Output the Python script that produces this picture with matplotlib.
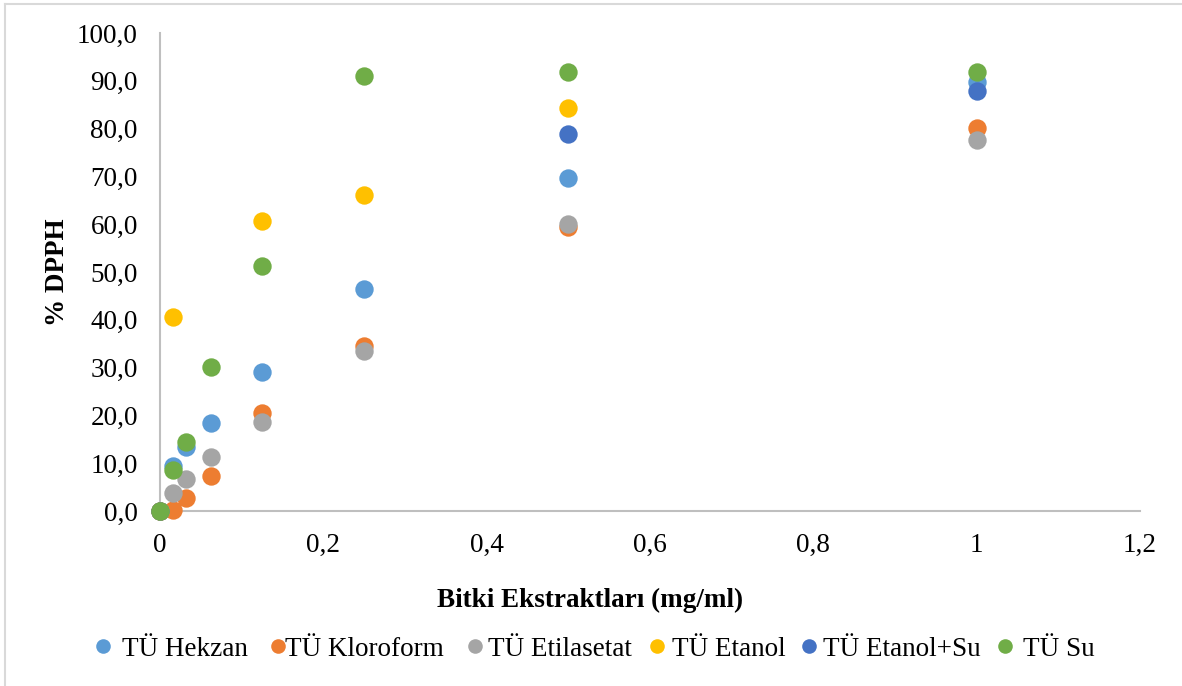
import numpy as np
import matplotlib
matplotlib.use("Agg")
import matplotlib.pyplot as plt
from matplotlib.lines import Line2D

x = [0, 0.015625, 0.03125, 0.0625, 0.125, 0.25, 0.5, 1.0]
series_names = ["TÜ Hekzan", "TÜ Kloroform", "TÜ Etilasetat", "TÜ Etanol", "TÜ Etanol+Su", "TÜ Su"]
hekzan = [0, 9.4, 13.4, 18.4, 29.1, 46.4, 69.7, 89.7]
kloroform = [0, 0.2, 2.7, 7.3, 20.5, 34.5, 59.4, 80.1]
etilasetat = [0, 3.8, 6.7, 11.3, 18.6, 33.5, 60.0, 77.6]
etanol = [0, 40.6, np.nan, np.nan, 60.7, 66.1, 84.3, np.nan]
etanol_su = [0, np.nan, np.nan, np.nan, np.nan, np.nan, 78.9, 87.9]
su = [0, 8.6, 14.4, 30.1, 51.3, 91.0, 91.8, 91.8]
colors = ["#5B9BD5", "#ED7D31", "#A5A5A5", "#FFC000", "#4472C4", "#70AD47"]
yticks = [0, 10, 20, 30, 40, 50, 60, 70, 80, 90, 100]
xticks = [0, 0.2, 0.4, 0.6, 0.8, 1.0, 1.2]
xticklabels = ["0", "0,2", "0,4", "0,6", "0,8", "1", "1,2"]

plt.rcParams['font.family'] = ['Liberation Serif', 'DejaVu Serif']

W, H = 1182, 686
FS = 19.5
fig = plt.figure(figsize=(W/100, H/100), dpi=100)
ax = fig.add_axes([160/W, (H-511)/H, (1140-160)/W, (511-33)/H])

data = [hekzan, kloroform, etilasetat, etanol, etanol_su, su]
for name, vals, c in zip(series_names, data, colors):
    ax.scatter(x, vals, s=175, color=c, label=name, zorder=3, linewidths=0, clip_on=False)

ax.set_xlim(0, 1.2)
ax.set_ylim(0, 100)
ax.set_yticks(yticks)
ax.set_yticklabels([f"{v:.1f}".replace(".", ",") for v in yticks])
ax.set_xticks(xticks)
ax.set_xticklabels(xticklabels)
ax.tick_params(length=0, labelsize=FS, colors="#000000", pad=16)
for s in ["top", "right"]:
    ax.spines[s].set_visible(False)
for s in ["left", "bottom"]:
    ax.spines[s].set_color("#BFBFBF")
    ax.spines[s].set_linewidth(1.5)
    ax.spines[s].set_zorder(1)

fig.text(57/W, 1 - 272/H, "% DPPH", rotation=90, ha="center", va="center",
         fontsize=FS, fontweight="bold")
fig.text(590/W, 1 - 600/H, "Bitki Ekstraktları (mg/ml)", ha="center", va="center",
         fontsize=FS, fontweight="bold")

# legend entries placed as in the reference
marker_px = [103, 278, 475, 657, 809, 1005]
text_px = [122, 285, 488, 672, 823, 1023]
ly = 1 - 646/H
for name, c, mx, tx in zip(series_names, colors, marker_px, text_px):
    fig.add_artist(Line2D([mx/W], [ly], marker="o", markersize=10.5, color=c,
                          markeredgewidth=0, linestyle="none", transform=fig.transFigure))
    fig.text(tx/W, ly, name, ha="left", va="center_baseline", fontsize=FS)

# chart frame: top and left edges only
fig.add_artist(Line2D([5/W, 1.0], [1 - 3.5/H, 1 - 3.5/H], color="#D9D9D9", linewidth=1.5,
                      transform=fig.transFigure))
fig.add_artist(Line2D([5/W, 5/W], [0.0, 1 - 3.5/H], color="#D9D9D9", linewidth=1.5,
                      transform=fig.transFigure))

fig.savefig("out.png", dpi=100)
